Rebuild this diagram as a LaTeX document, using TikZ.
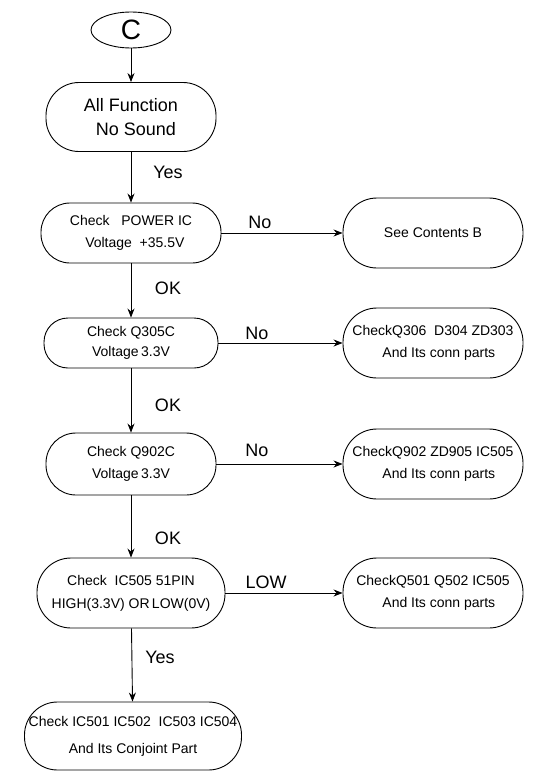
\documentclass[tikz,border=0pt]{standalone}
\usepackage{fontspec}
\setmainfont{Liberation Sans}
\usetikzlibrary{graphs}
\usetikzlibrary{shapes.geometric}
\usetikzlibrary{arrows.meta}
\tikzset{
  term/.style= {draw, ellipse, minimum width=80pt, minimum height=36pt, inner sep=0pt, font=\fontsize{28}{30}\selectfont},
  bigbox/.style= {draw, rectangle, rounded corners=33pt, minimum width=170pt, minimum height=69pt, align=center, font=\fontsize{18}{24}\selectfont},
  stepbox/.style= {draw, rectangle, align=center, inner sep=0pt, font=\fontsize{14}{22}\selectfont},
  sidebox/.style= {stepbox, minimum width=180pt, minimum height=70pt, rounded corners=34pt},
  lbl/.style= {font=\fontsize{18}{20}\selectfont, inner sep=0pt},
}

\begin{document}
\begin{tikzpicture}[x=1pt, y=-1pt, line width=0.9pt, >={Stealth[length=9pt,width=7pt]}]
  \useasboundingbox (0,0) rectangle (537,771);
  \node [term] (c) at (131,30) {C} ;
  \node [bigbox] (allfn) at (131,117) {All Function\\\ \ No Sound} ;
  \node [stepbox, minimum width=180pt, minimum height=60pt, rounded corners=29pt] (power) at (131,233) {Check\ \ \ POWER IC\\\ \ Voltage\ \ +35.5V} ;
  \node [sidebox] (see) at (433,233) {See Contents B} ;
  \node [stepbox, minimum width=174pt, minimum height=50pt, rounded corners=24pt, font=\fontsize{14}{20}\selectfont] (q305) at (131,343) {Check Q305C\\Voltage\,3.3V} ;
  \node [sidebox] (q306) at (433,343) {CheckQ306\ \ D304 ZD303\\\ \ \ And Its conn parts} ;
  \node [stepbox, minimum width=170pt, minimum height=62pt, rounded corners=30pt] (q902) at (131,464) {Check Q902C\\Voltage\,3.3V} ;
  \node [sidebox] (zd905) at (433,464) {CheckQ902 ZD905 IC505\\\ \ \ And Its conn parts} ;
  \node [stepbox, minimum width=188pt, minimum height=70pt, rounded corners=34pt, font=\fontsize{14}{23}\selectfont] (ic505) at (131,593) {Check\ \ IC505 51PIN\\HIGH(3.3V) OR\,LOW(0V)} ;
  \node [sidebox] (q501) at (433,593) {CheckQ501 Q502 IC505\\\ \ \ And Its conn parts} ;
  \node [stepbox, minimum width=217pt, minimum height=68pt, rounded corners=33pt, font=\fontsize{14}{27}\selectfont] (conj) at (133,736) {Check IC501 IC502\ \ IC503 IC504\\And Its Conjoint Part} ;

  \node [lbl] (yes1) at (168,172) {Yes} ;
  \node [lbl] (ok1) at (168,288) {OK} ;
  \node [lbl] (ok2) at (168,405) {OK} ;
  \node [lbl] (ok3) at (168,538) {OK} ;
  \node [lbl] (yes2) at (160,657) {Yes} ;
  \node [lbl] (no1) at (260,222) {No} ;
  \node [lbl] (no2) at (257,333) {No} ;
  \node [lbl] (no3) at (257,450) {No} ;
  \node [lbl] (low) at (266,582) {LOW} ;

  \graph {
    (c) -> (allfn) -> (power) -> (q305) -> (q902) -> (ic505) -> (conj) ;
    (power) -> (see) ;
    (q305) -> (q306) ;
    (q902) -> (zd905) ;
    (ic505) -> (q501) ;
  } ;
\end{tikzpicture}
\end{document}
